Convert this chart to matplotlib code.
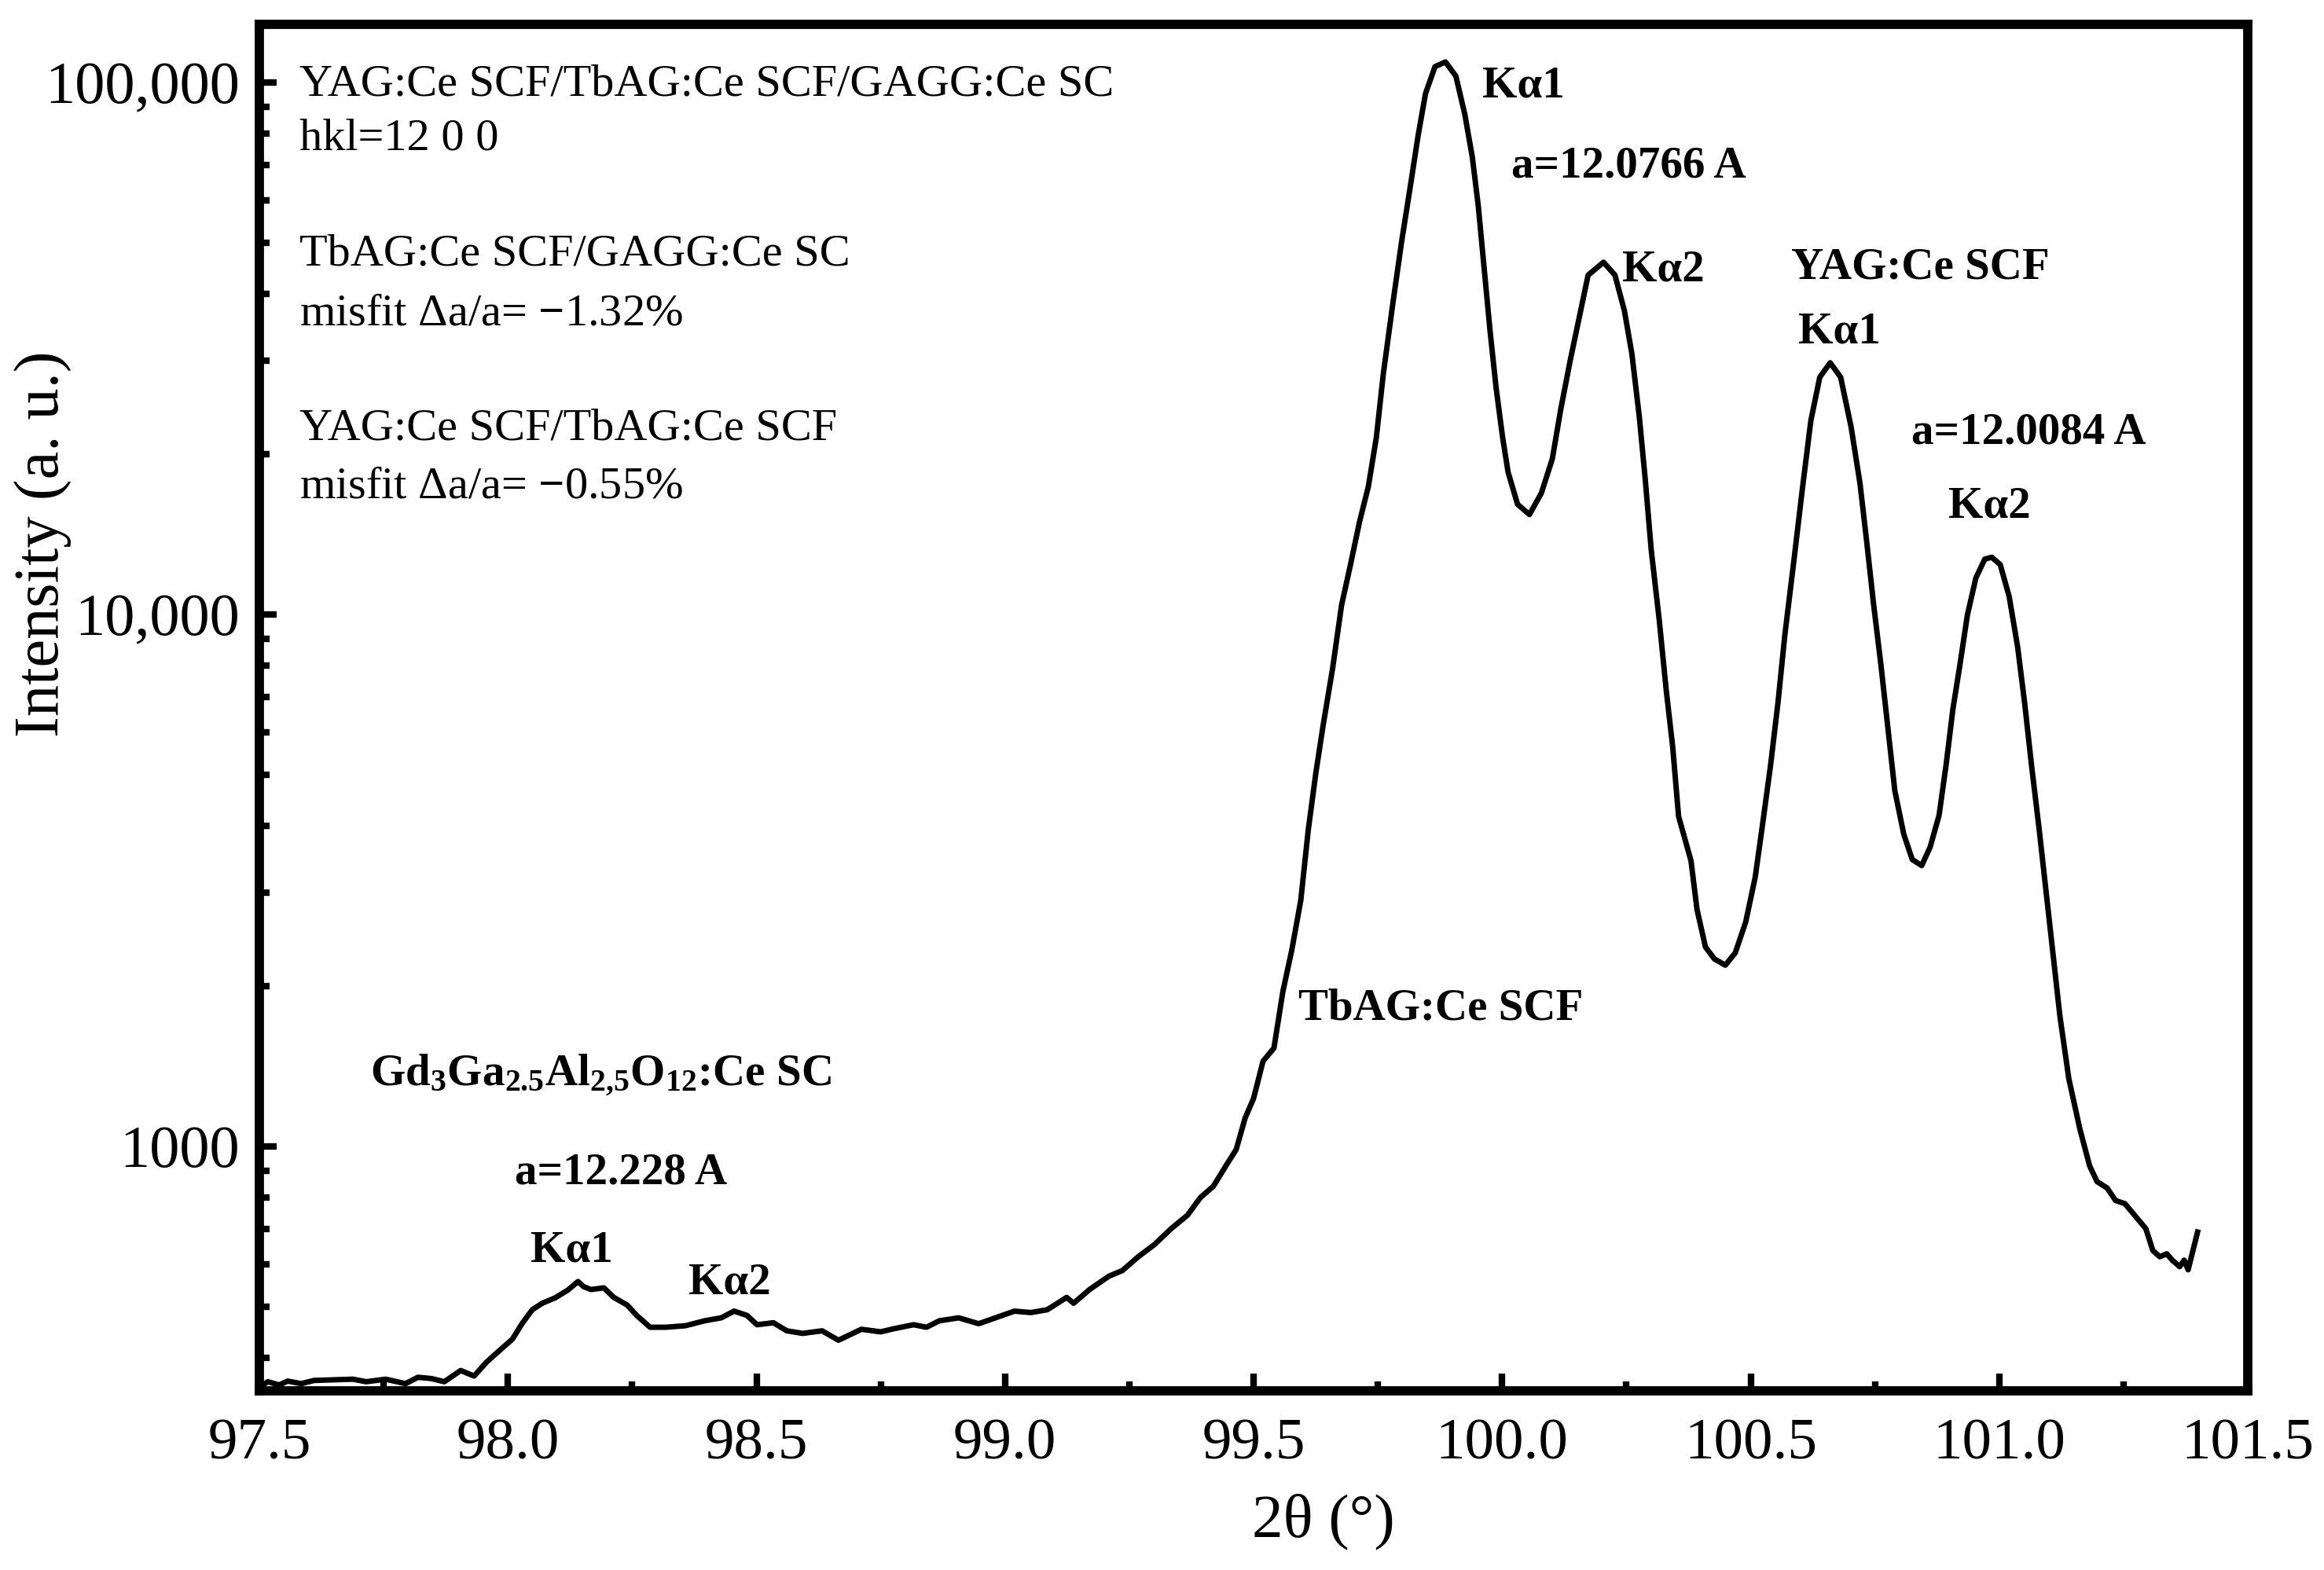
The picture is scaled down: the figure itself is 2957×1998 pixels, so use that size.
import matplotlib
matplotlib.use("Agg")
import matplotlib.pyplot as plt
from matplotlib.ticker import MultipleLocator, LogLocator, NullFormatter

plt.rcParams['font.family'] = ['Liberation Serif', 'DejaVu Serif']
plt.rcParams['mathtext.fontset'] = 'custom'
plt.rcParams['mathtext.rm'] = 'Liberation Serif'
plt.rcParams['mathtext.bf'] = 'Liberation Serif:bold'

# 2theta (deg) and intensity
two_theta = [97.505, 97.517, 97.540, 97.557, 97.584, 97.610, 97.649, 97.688, 97.715, 97.754,
             97.794, 97.819, 97.846, 97.872, 97.905, 97.932, 97.957, 97.984, 98.009, 98.029,
             98.049, 98.069, 98.095, 98.121, 98.141, 98.152, 98.167, 98.193, 98.213, 98.240,
             98.259, 98.286, 98.318, 98.357, 98.396, 98.429, 98.455, 98.481, 98.501, 98.534,
             98.561, 98.593, 98.632, 98.665, 98.711, 98.750, 98.776, 98.816, 98.842, 98.868,
             98.907, 98.947, 98.986, 99.019, 99.052, 99.085, 99.124, 99.138, 99.170, 99.209,
             99.236, 99.268, 99.301, 99.334, 99.367, 99.393, 99.419, 99.445, 99.465, 99.483,
             99.500, 99.519, 99.541, 99.559, 99.577, 99.595, 99.610, 99.625, 99.640, 99.659,
             99.677, 99.695, 99.713, 99.731, 99.747, 99.761, 99.780, 99.798, 99.816, 99.831,
             99.846, 99.865, 99.886, 99.907, 99.925, 99.940, 99.952, 99.964, 99.976, 99.988,
             100.001, 100.012, 100.031, 100.055, 100.079, 100.101, 100.118, 100.137, 100.155, 100.173,
             100.204, 100.227, 100.246, 100.261, 100.276, 100.288, 100.300, 100.316, 100.330, 100.343,
             100.355, 100.380, 100.392, 100.409, 100.427, 100.449, 100.469, 100.490, 100.509, 100.523,
             100.540, 100.555, 100.569, 100.586, 100.604, 100.621, 100.639, 100.660, 100.681, 100.702,
             100.720, 100.733, 100.747, 100.762, 100.776, 100.790, 100.808, 100.825, 100.844, 100.861,
             100.879, 100.893, 100.907, 100.921, 100.936, 100.953, 100.971, 100.985, 101.002, 101.020,
             101.037, 101.051, 101.065, 101.080, 101.094, 101.108, 101.122, 101.140, 101.162, 101.182,
             101.197, 101.217, 101.234, 101.253, 101.274, 101.295, 101.309, 101.323, 101.337, 101.348,
             101.363, 101.372, 101.380, 101.388, 101.399]
intensity = [355, 361, 356, 362, 358, 363, 364, 365, 361, 365,
             358, 368, 366, 361, 379, 370, 393, 414, 434, 465,
             493, 507, 519, 537, 557, 545, 538, 542, 520, 503,
             481, 457, 457, 460, 470, 476, 490, 481, 462, 466,
             450, 445, 450, 432, 453, 448, 454, 462, 457, 470,
             476, 464, 478, 490, 487, 493, 520, 507, 538, 570,
             584, 620, 654, 700, 742, 801, 841, 921, 986, 1130,
             1230, 1445, 1530, 1955, 2340, 2900, 3930, 5010, 6190, 7910,
             10400, 12400, 14900, 17400, 21500, 28300, 38300, 50300, 64300, 79400,
             95300, 107000, 109200, 102700, 87000, 72400, 58600, 44500, 33900, 26600,
             21500, 18500, 16100, 15400, 16900, 19600, 24300, 30000, 36100, 43400,
             45900, 43400, 37200, 30900, 23500, 17900, 13200, 9770, 7220, 5650,
             4170, 3440, 2790, 2370, 2250, 2190, 2310, 2640, 3200, 3970,
             5200, 6830, 9190, 12400, 17200, 23100, 27900, 29700, 27900, 22500,
             17600, 13800, 10500, 8040, 6120, 4660, 3860, 3460, 3370, 3650,
             4190, 5200, 6650, 8040, 9970, 11700, 12700, 12800, 12400, 10800,
             8690, 6830, 5200, 3970, 3030, 2310, 1760, 1340, 1080, 918,
             858, 835, 791, 780, 739, 700, 637, 620, 628, 611,
             594, 611, 586, 628, 690]

x_ticks = [97.5, 98.0, 98.5, 99.0, 99.5, 100.0, 100.5, 101.0, 101.5]
y_ticks = [1000, 10000, 100000]
y_tick_labels = ['1000', '10,000', '100,000']

info_lines = ['YAG:Ce SCF/TbAG:Ce SCF/GAGG:Ce SC', 'hkl=12 0 0',
              'TbAG:Ce SCF/GAGG:Ce SC', r'misfit $\Delta$a/a= $\mathbf{-}$1.32%',
              'YAG:Ce SCF/TbAG:Ce SCF', r'misfit $\Delta$a/a= $\mathbf{-}$0.55%']
info_y = [0.948, 0.908, 0.8235, 0.780, 0.6958, 0.6538]

# bold labels: text, 2theta, intensity (baseline)
peak_labels = [('K\u03b11', 99.960, 93700),
               ('a=12.0766 A', 100.019, 66200),
               ('K\u03b12', 100.242, 42300),
               ('YAG:Ce SCF', 100.581, 42700),
               ('K\u03b11', 100.596, 32300),
               ('a=12.0084 A', 100.823, 20900),
               ('K\u03b12', 100.898, 15200),
               ('TbAG:Ce SCF', 99.590, 1730),
               (r'$\mathbf{Gd_{3}Ga_{2.5}Al_{2{,}5}O_{12}}$:Ce SC', 97.723, 1304),
               ('a=12.228 A', 98.014, 849),
               ('K\u03b11', 98.045, 607),
               ('K\u03b12', 98.363, 529)]

fig = plt.figure(figsize=(29.57, 19.98), dpi=100)
ax = fig.add_axes([0.1116, 0.1141, 0.8556, 0.8704])

ax.plot(two_theta, intensity, color='black', lw=5, solid_joinstyle='round')
ax.set_yscale('log')
ax.set_xlim(97.5, 101.5)
ax.set_ylim(347, 128500)

ax.set_xticks(x_ticks)
ax.set_xticklabels(['%.1f' % t for t in x_ticks])
ax.xaxis.set_minor_locator(MultipleLocator(0.25))
ax.set_yticks(y_ticks)
ax.set_yticklabels(y_tick_labels)
ax.yaxis.set_minor_locator(LogLocator(base=10, subs=range(2, 10)))
ax.yaxis.set_minor_formatter(NullFormatter())

ax.tick_params(which='both', direction='in', top=False, right=False, width=6)
ax.tick_params(which='major', length=16)
ax.tick_params(axis='x', which='major', pad=25, labelsize=54)
ax.tick_params(axis='y', which='major', pad=18, labelsize=55)
ax.tick_params(which='minor', length=9)
for s in ax.spines.values():
    s.set_linewidth(8.5)

ax.set_xlabel('2\u03b8 (\u00b0)', fontsize=57)
ax.set_ylabel('Intensity (a. u.)', fontsize=58)
ax.xaxis.set_label_coords(0.535, -0.075)
ax.yaxis.set_label_coords(-0.094, 0.62)

for line, yy in zip(info_lines, info_y):
    ax.text(0.0202, yy, line, transform=ax.transAxes, fontsize=42, va='baseline', ha='left')

for txt, xx, yy in peak_labels:
    ax.text(xx, yy, txt, fontsize=41, fontweight='bold', va='baseline', ha='left')

fig.savefig('out.png', dpi=100)
